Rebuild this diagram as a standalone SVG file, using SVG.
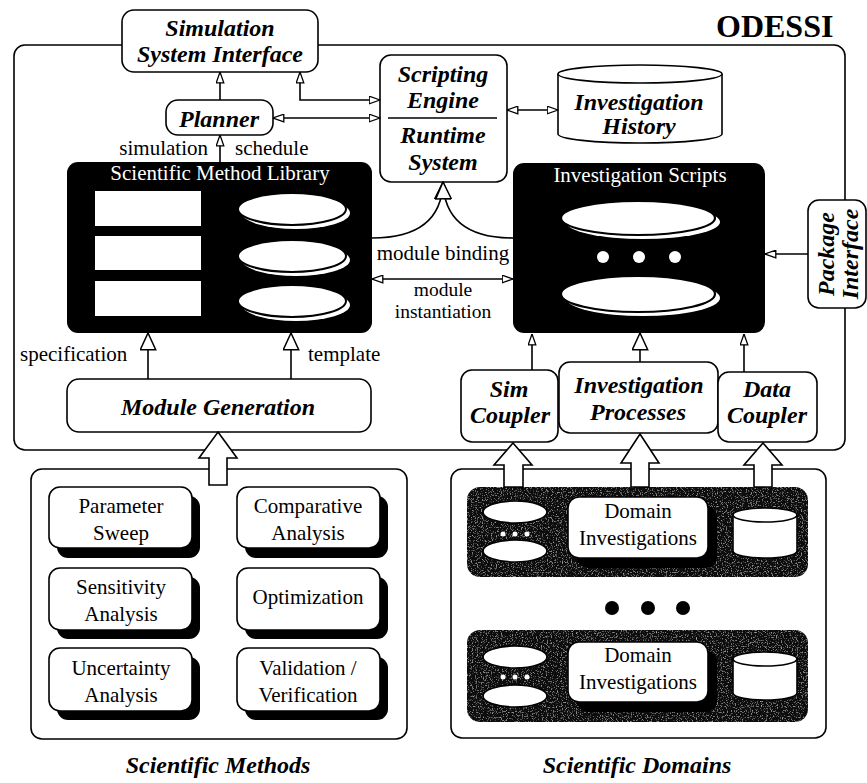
<svg xmlns="http://www.w3.org/2000/svg" width="867" height="783" viewBox="0 0 867 783">
<style>
.box{fill:#fff;stroke:#000;stroke-width:1.6}
.blk{fill:#000}
.ln{fill:none;stroke:#000;stroke-width:1.6}
.blkarrow{fill:#fff;stroke:#000;stroke-width:1.6;stroke-linejoin:miter}
.bi{font-family:"Liberation Serif","Times New Roman",serif;font-weight:bold;font-style:italic;font-size:24px;text-anchor:middle;fill:#000}
.rg{font-family:"Liberation Serif","Times New Roman",serif;font-size:21px;text-anchor:middle;fill:#000}
.wt{fill:#fff}
.title{font-family:"Liberation Serif","Times New Roman",serif;font-weight:bold;font-size:32px;fill:#000}
</style>
<defs>
<marker id="sm" markerUnits="userSpaceOnUse" viewBox="0 0 12 9" refX="11.5" refY="4.5" markerWidth="12" markerHeight="9" orient="auto-start-reverse">
<path d="M0.7,0.7 L11.5,4.5 L0.7,8.3 Z" fill="#fff" stroke="#000" stroke-width="1.3"/>
</marker>
<marker id="lg" markerUnits="userSpaceOnUse" viewBox="0 0 18 17" refX="17.5" refY="8.5" markerWidth="18" markerHeight="17" orient="auto-start-reverse">
<path d="M0.8,0.8 L17.5,8.5 L0.8,16.2 Z" fill="#fff" stroke="#000" stroke-width="1.5"/>
</marker>
<filter id="grain" x="0" y="0" width="1" height="1">
<feTurbulence type="fractalNoise" baseFrequency="0.8" numOctaves="2" seed="4" result="n"/>
<feColorMatrix in="n" type="matrix" values="0 0 0 0 0.5 0 0 0 0 0.5 0 0 0 0 0.5 2.6 0 0 0 -1.45" result="s"/>
<feComposite in="s" in2="SourceGraphic" operator="in" result="c"/>
<feMerge><feMergeNode in="SourceGraphic"/><feMergeNode in="c"/></feMerge>
</filter>
</defs>
<rect width="867" height="783" fill="#fff"/>

<g id="odessi">
<rect class="box" x="14" y="45" width="831" height="405" rx="11"/>
<text class="title" x="716" y="37">ODESSI</text>
</g>

<g id="ssi">
<rect class="box" x="122" y="10" width="196" height="62" rx="12"/>
<text class="bi" x="220" y="36">Simulation</text>
<text class="bi" x="220" y="62">System Interface</text>
</g>

<g id="planner">
<rect class="box" x="166" y="100" width="107" height="35" rx="12"/>
<text class="bi" x="219" y="127">Planner</text>
</g>

<g id="scripting-engine">
<rect class="box" x="380" y="55" width="127" height="127" rx="11"/>
<line class="ln" x1="388" y1="118" x2="497" y2="118"/>
<text class="bi" x="443" y="82">Scripting</text>
<text class="bi" x="443" y="108">Engine</text>
<text class="bi" x="443" y="143">Runtime</text>
<text class="bi" x="443" y="170">System</text>
</g>

<g id="investigation-history">
<path class="box" d="M558,74 L558,134 A82,9 0 0 0 722,134 L722,74"/>
<ellipse class="box" cx="640" cy="74" rx="82" ry="9"/>
<text class="bi" x="639" y="110">Investigation</text>
<text class="bi" x="639" y="134">History</text>
</g>

<g id="method-library">
<rect class="blk" x="67" y="162" width="305" height="171" rx="11"/>
<text class="rg wt" x="220" y="180">Scientific Method Library</text>
<rect fill="#fff" x="95" y="191" width="106" height="35"/>
<rect fill="#fff" x="95" y="236" width="106" height="34"/>
<rect fill="#fff" x="95" y="281" width="106" height="35"/>
<ellipse fill="#fff" cx="296" cy="213" rx="54" ry="16"/>
<ellipse fill="#fff" stroke="#000" stroke-width="2" cx="292" cy="209" rx="54" ry="16"/>
<ellipse fill="#fff" cx="296" cy="260" rx="54" ry="16"/>
<ellipse fill="#fff" stroke="#000" stroke-width="2" cx="292" cy="256" rx="54" ry="16"/>
<ellipse fill="#fff" cx="296" cy="305" rx="54" ry="16"/>
<ellipse fill="#fff" stroke="#000" stroke-width="2" cx="292" cy="301" rx="54" ry="16"/>
</g>

<g id="investigation-scripts">
<rect class="blk" x="513" y="163" width="252" height="170" rx="11"/>
<text class="rg wt" x="640" y="182">Investigation Scripts</text>
<ellipse fill="#fff" cx="643" cy="222" rx="77" ry="17"/>
<ellipse fill="#fff" stroke="#000" stroke-width="2.2" cx="638" cy="218" rx="77" ry="17"/>
<circle fill="#fff" cx="603" cy="257" r="6"/>
<circle fill="#fff" cx="639" cy="257" r="6"/>
<circle fill="#fff" cx="675" cy="257" r="6"/>
<ellipse fill="#fff" cx="643" cy="298" rx="77" ry="18"/>
<ellipse fill="#fff" stroke="#000" stroke-width="2.2" cx="638" cy="294" rx="77" ry="18"/>
</g>

<g id="package-interface">
<rect class="box" x="808" y="200" width="58" height="108" rx="11"/>
<text class="bi" transform="translate(834,254) rotate(-90)">Package</text>
<text class="bi" transform="translate(858,254) rotate(-90)">Interface</text>
</g>

<g id="module-generation">
<rect class="box" x="67" y="379" width="304" height="53" rx="12"/>
<text class="bi" x="218" y="415">Module Generation</text>
</g>

<g id="sim-coupler">
<rect class="box" x="461" y="370" width="97" height="72" rx="11"/>
<text class="bi" x="509" y="397">Sim</text>
<text class="bi" x="510" y="423">Coupler</text>
</g>

<g id="investigation-processes">
<rect class="box" x="559" y="362" width="159" height="71" rx="11"/>
<text class="bi" x="639" y="393">Investigation</text>
<text class="bi" x="638" y="420">Processes</text>
</g>

<g id="data-coupler">
<rect class="box" x="718" y="372" width="99" height="70" rx="11"/>
<text class="bi" x="767" y="397">Data</text>
<text class="bi" x="767" y="423">Coupler</text>
</g>

<g id="scientific-methods">
<rect class="box" x="31" y="469" width="376" height="270" rx="11"/>
<rect class="blk" x="57" y="496" width="143" height="62" rx="11"/>
<rect class="box" x="49" y="487" width="143" height="61" rx="11"/>
<text class="rg" x="121" y="513">Parameter</text>
<text class="rg" x="121" y="540">Sweep</text>
<rect class="blk" x="245" y="496" width="143" height="62" rx="11"/>
<rect class="box" x="237" y="487" width="143" height="61" rx="11"/>
<text class="rg" x="308" y="513">Comparative</text>
<text class="rg" x="308" y="540">Analysis</text>
<rect class="blk" x="57" y="577" width="143" height="62" rx="11"/>
<rect class="box" x="49" y="568" width="143" height="62" rx="11"/>
<text class="rg" x="121" y="594">Sensitivity</text>
<text class="rg" x="121" y="621">Analysis</text>
<rect class="blk" x="245" y="577" width="143" height="62" rx="11"/>
<rect class="box" x="237" y="568" width="143" height="62" rx="11"/>
<text class="rg" x="308" y="604">Optimization</text>
<rect class="blk" x="57" y="657" width="143" height="63" rx="11"/>
<rect class="box" x="49" y="648" width="143" height="63" rx="11"/>
<text class="rg" x="121" y="675">Uncertainty</text>
<text class="rg" x="121" y="702">Analysis</text>
<rect class="blk" x="245" y="657" width="143" height="63" rx="11"/>
<rect class="box" x="237" y="648" width="143" height="63" rx="11"/>
<text class="rg" x="308" y="675">Validation /</text>
<text class="rg" x="308" y="702">Verification</text>
<text class="bi" x="218" y="773">Scientific Methods</text>
</g>

<g id="scientific-domains">
<rect class="box" x="451" y="469" width="375" height="269" rx="11"/>
<rect fill="#111" filter="url(#grain)" x="467" y="487" width="341" height="90" rx="13"/>
<ellipse class="box" cx="515" cy="512" rx="32" ry="11"/>
<ellipse class="box" cx="515" cy="551" rx="32" ry="11"/>
<circle fill="#fff" cx="503" cy="534" r="2.5"/>
<circle fill="#fff" cx="515" cy="534" r="2.5"/>
<circle fill="#fff" cx="527" cy="534" r="2.5"/>
<rect class="blk" x="577" y="506" width="140" height="62" rx="11"/>
<rect class="box" x="568" y="497" width="140" height="61" rx="11"/>
<text class="rg" x="638" y="518">Domain</text>
<text class="rg" x="638" y="545">Investigations</text>
<path class="box" d="M733,515 L733,551 A32,7 0 0 0 797,551 L797,515"/>
<ellipse class="box" cx="765" cy="515" rx="32" ry="7"/>
<circle cx="612" cy="608" r="7"/>
<circle cx="648" cy="608" r="7"/>
<circle cx="683" cy="608" r="7"/>
<rect fill="#111" filter="url(#grain)" x="467" y="630" width="341" height="92" rx="13"/>
<ellipse class="box" cx="515" cy="657" rx="32" ry="11"/>
<ellipse class="box" cx="515" cy="696" rx="32" ry="11"/>
<circle fill="#fff" cx="503" cy="677" r="2.5"/>
<circle fill="#fff" cx="515" cy="677" r="2.5"/>
<circle fill="#fff" cx="527" cy="677" r="2.5"/>
<rect class="blk" x="577" y="651" width="140" height="61" rx="11"/>
<rect class="box" x="568" y="642" width="140" height="60" rx="11"/>
<text class="rg" x="638" y="662">Domain</text>
<text class="rg" x="638" y="689">Investigations</text>
<path class="box" d="M733,659 L733,693 A32,7 0 0 0 797,693 L797,659"/>
<ellipse class="box" cx="765" cy="659" rx="32" ry="7"/>
<text class="bi" x="637" y="773">Scientific Domains</text>
</g>

<g id="connectors">
<path class="ln" d="M220,100 L220,72" marker-end="url(#sm)"/>
<path class="ln" d="M300,72 L300,100 L380,100" marker-start="url(#sm)" marker-end="url(#sm)"/>
<path class="ln" d="M273,118 L380,118" marker-start="url(#sm)" marker-end="url(#sm)"/>
<path class="ln" d="M507,110 L558,110" marker-start="url(#sm)" marker-end="url(#sm)"/>
<path class="ln" d="M220,162 L220,135" marker-end="url(#sm)"/>
<text class="rg" x="208" y="155" style="text-anchor:end">simulation</text>
<text class="rg" x="235" y="155" style="text-anchor:start">schedule</text>
<path class="ln" d="M372,238 C420,238 442,218 443,182" marker-end="url(#lg)"/>
<path class="ln" d="M513,238 C466,238 444,218 443,182" marker-end="url(#lg)"/>
<text class="rg" x="443" y="260">module binding</text>
<path class="ln" d="M372,279 L513,279" marker-start="url(#sm)" marker-end="url(#sm)"/>
<text class="rg" x="443" y="296" style="font-size:19.5px">module</text>
<text class="rg" x="443" y="318" style="font-size:19.5px">instantiation</text>
<path class="ln" d="M148,379 L148,333" marker-end="url(#lg)"/>
<path class="ln" d="M291,379 L291,333" marker-end="url(#lg)"/>
<text class="rg" x="20" y="361" style="text-anchor:start">specification</text>
<text class="rg" x="308" y="361" style="text-anchor:start">template</text>
<path class="ln" d="M532,370 L532,334" marker-end="url(#sm)"/>
<path class="ln" d="M640,362 L640,333" marker-end="url(#lg)"/>
<path class="ln" d="M744,372 L744,334" marker-end="url(#sm)"/>
<path class="ln" d="M808,254 L765,254" marker-end="url(#sm)"/>
<polygon class="blkarrow" points="218,432 237,458 227,458 227,485 209,485 209,458 199,458"/>
<polygon class="blkarrow" points="513,443 532,465 523,465 523,487 504,487 504,465 494,465"/>
<polygon class="blkarrow" points="640,434 659,463 649,463 649,487 631,487 631,463 621,463"/>
<polygon class="blkarrow" points="763,443 782,465 772,465 772,487 754,487 754,465 744,465"/>
</g>
</svg>
